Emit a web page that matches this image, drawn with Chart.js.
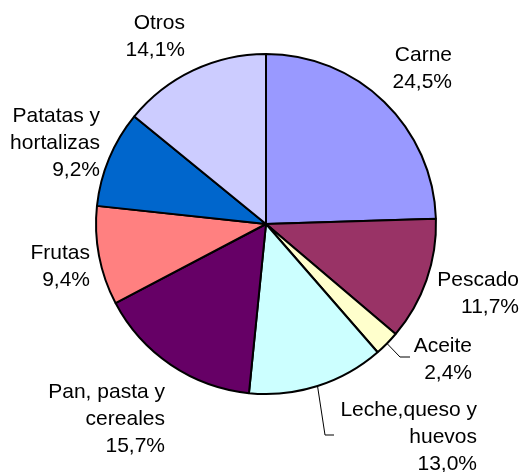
<!DOCTYPE html>
<html>
<head>
<meta charset="utf-8">
<script src="https://cdn.jsdelivr.net/npm/chart.js@4/dist/chart.umd.min.js"></script>
<style>
html,body{margin:0;padding:0;background:#fff;}
#wrap{width:521px;height:472px;position:relative;}
</style>
</head>
<body>
<div id="wrap"><canvas id="c" width="521" height="472"></canvas></div>
<script>
// Data
const categories = ["Carne", "Pescado", "Aceite", "Leche,queso y\nhuevos", "Pan, pasta y\ncereales", "Frutas", "Patatas y\nhortalizas", "Otros"];
const shares = [24.5, 11.7, 2.4, 13.0, 15.7, 9.4, 9.2, 14.1];
const sliceColors = ["#9999FF", "#993366", "#FFFFCC", "#CCFFFF", "#660066", "#FF8080", "#0066CC", "#CCCCFF"];

// Label layout: offset (px) of right edge / first baseline from pie centre
const labelOffsets = [[186,-163],[253,62],[206,128],[211,192],[-101,174],[-176,35],[-166,-102],[-81,-195]];
// Leader lines (bend, end) relative to pie centre, null = none
const leaders = [null,null,[[134,133],[144,133]],[[59,211],[68,211]],null,null,null,null];

const labelPlugin = {
  id: 'pieLabels',
  afterDraw(chart) {
    const ctx = chart.ctx;
    const meta = chart.getDatasetMeta(0);
    ctx.save();
    ctx.font = '21px "Liberation Sans", Arial, sans-serif';
    ctx.fillStyle = '#000';
    ctx.textAlign = 'right';
    ctx.textBaseline = 'alphabetic';
    meta.data.forEach((arc, i) => {
      const p = arc.getProps(['x','y','startAngle','endAngle','outerRadius'], true);
      const cx = p.x, cy = p.y;
      const lines = categories[i].split('\n');
      lines.push(shares[i].toFixed(1).replace('.', ',') + '%');
      const [dx, dy] = labelOffsets[i];
      lines.forEach((t, k) => ctx.fillText(t, cx + dx, cy + dy + k * 27));
      if (leaders[i]) {
        const mid = (p.startAngle + p.endAngle) / 2;
        const sx = cx + Math.cos(mid) * p.outerRadius;
        const sy = cy + Math.sin(mid) * p.outerRadius;
        ctx.beginPath();
        ctx.strokeStyle = '#000';
        ctx.lineWidth = 1;
        ctx.moveTo(sx, sy);
        ctx.lineTo(cx + leaders[i][0][0], cy + leaders[i][0][1]);
        ctx.lineTo(cx + leaders[i][1][0], cy + leaders[i][1][1]);
        ctx.stroke();
      }
    });
    ctx.restore();
  }
};

new Chart(document.getElementById('c'), {
  type: 'pie',
  data: {
    labels: categories,
    datasets: [{
      data: shares,
      backgroundColor: sliceColors,
      borderColor: '#000',
      borderWidth: 2
    }]
  },
  options: {
    responsive: false,
    animation: false,
    devicePixelRatio: 1,
    layout: { padding: { left: 95, top: 53, right: 84, bottom: 77 } },
    plugins: { legend: { display: false }, tooltip: { enabled: false } }
  },
  plugins: [labelPlugin]
});
</script>
</body>
</html>
